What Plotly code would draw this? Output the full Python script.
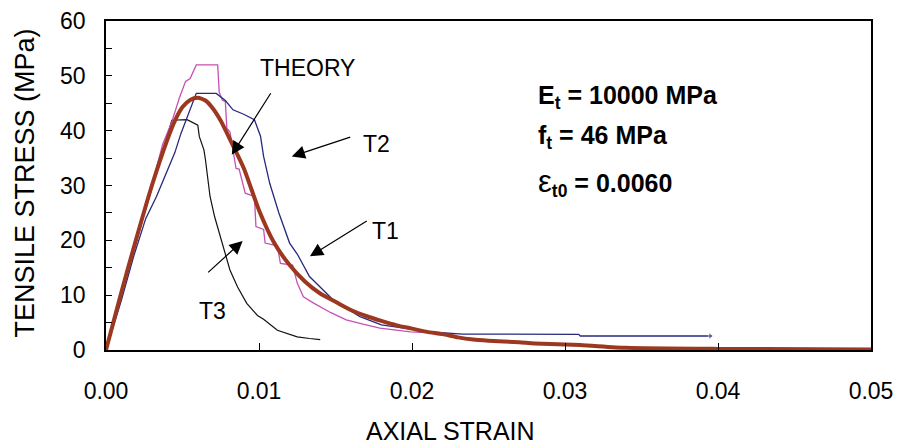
import plotly.graph_objects as go

# ---- data ----
theory_strain = [0, 0.001, 0.002, 0.003, 0.004, 0.0045, 0.005, 0.0055, 0.006, 0.0065, 0.007,
                 0.0075, 0.008, 0.009, 0.010,
                 0.011, 0.012, 0.013, 0.014, 0.015, 0.016, 0.017, 0.018, 0.019, 0.020,
                 0.021, 0.022, 0.023, 0.024, 0.025, 0.027, 0.028, 0.031, 0.034, 0.040, 0.050]
theory_stress = [0, 10.5, 20.5, 30, 38.3, 41.8, 44.3, 45.6, 46, 45.5, 44,
                 41.8, 39, 33.2, 25.5,
                 19.5, 15.5, 12.5, 10.3, 8.8, 7.3, 6.2, 5.3, 4.5, 3.9,
                 3.3, 2.9, 2.3, 1.9, 1.7, 1.4, 1.2, 0.9, 0.4, 0.2, 0.1]

t1_strain = [0, 0.001, 0.002, 0.003, 0.0037, 0.0043, 0.0048, 0.0052, 0.0055, 0.0059, 0.0073,
             0.0074, 0.0076, 0.0078, 0.0079, 0.0081, 0.0085, 0.0087, 0.0091, 0.0097, 0.0098,
             0.0103, 0.0104, 0.0112, 0.0114, 0.0122, 0.0125, 0.0129, 0.0136, 0.0147, 0.0157,
             0.0168, 0.0179, 0.0199, 0.0225]
t1_stress = [0, 10.3, 20.3, 30, 37.5, 41.6, 46, 49, 49.5, 52, 52,
             47, 45.6, 45.3, 40.4, 39.8, 33.1, 33, 28.6, 28, 22.5,
             22, 19.5, 19, 15.8, 15.5, 12.2, 9.7, 8.5, 6.8, 5.5,
             4.7, 4.0, 3.3, 3.0]

t2_strain = [0, 0.001, 0.0018, 0.0026, 0.0033, 0.004, 0.0045, 0.0049, 0.0055, 0.0059, 0.0072,
             0.0078, 0.0083, 0.009, 0.0097, 0.0101, 0.0103, 0.0107, 0.0113, 0.012, 0.0125,
             0.0133, 0.0149, 0.0166, 0.018, 0.0212, 0.0233, 0.0309, 0.031, 0.0395]
t2_stress = [0, 9, 17, 24, 28, 32.5, 36, 39.5, 44, 46.8, 46.8,
             45.5, 43.8, 43, 42, 39, 35.3, 30.4, 25, 19.5, 17.5,
             13.4, 9, 6.1, 4.6, 3.3, 2.9, 2.85, 2.55, 2.55]

t3_strain = [0, 0.001, 0.002, 0.003, 0.0037, 0.0043, 0.0053, 0.006, 0.0061, 0.0064, 0.0065,
             0.0068, 0.0071, 0.0077, 0.0081, 0.0086, 0.0092, 0.0099, 0.0103, 0.0112, 0.012,
             0.0125, 0.0133, 0.014]
t3_stress = [0, 10.3, 20, 29.5, 36.5, 41.9, 42, 41, 38.9, 36.5, 34.7,
             28, 24.3, 18.2, 14.6, 11.5, 8.5, 6.3, 5.6, 3.6, 2.9,
             2.4, 2.1, 1.9]

x_ticks = [0, 0.01, 0.02, 0.03, 0.04, 0.05]
x_ticklabels = ["0.00", "0.01", "0.02", "0.03", "0.04", "0.05"]
y_ticks = [0, 10, 20, 30, 40, 50, 60]

FONT = "Liberation Sans, Arial, sans-serif"

fig = go.Figure()
fig.add_trace(go.Scatter(x=t3_strain, y=t3_stress, mode="lines",
                         line=dict(color="#111111", width=1.2), name="T3"))
fig.add_trace(go.Scatter(x=t1_strain, y=t1_stress, mode="lines",
                         line=dict(color="#c850b4", width=1.3), name="T1"))
fig.add_trace(go.Scatter(x=t2_strain, y=t2_stress, mode="lines+markers",
                         line=dict(color="#28287e", width=1.3),
                         marker=dict(size=[0] * (len(t2_strain) - 1) + [6],
                                     symbol="triangle-right", color="#28287e"),
                         name="T2"))
fig.add_trace(go.Scatter(x=theory_strain, y=theory_stress, mode="lines",
                         line=dict(color="#9c3820", width=4, shape="spline", smoothing=0.6),
                         name="THEORY"))

# arrows (tail -> head) in data coordinates
arrows = [
    ((0.01083, 47.1), (0.00822, 35.6)),   # THEORY
    ((0.01606, 38.9), (0.01214, 35.3)),   # T2
    ((0.01714, 23.7), (0.01333, 17.1)),   # T1
    ((0.00658, 13.9), (0.00893, 19.9)),   # T3
]
for (tx, ty), (hx, hy) in arrows:
    fig.add_annotation(x=hx, y=hy, ax=tx, ay=ty, xref="x", yref="y", axref="x", ayref="y",
                       text="", showarrow=True, arrowhead=2, arrowsize=2.2, arrowwidth=1.2,
                       arrowcolor="black", standoff=0)

labels = [("THEORY", 0.0132, 51.4), ("T2", 0.01765, 37.6), ("T1", 0.01824, 21.7), ("T3", 0.00693, 7.1)]
for txt, lx, ly in labels:
    fig.add_annotation(x=lx, y=ly, xref="x", yref="y", text=txt, showarrow=False,
                       font=dict(family=FONT, size=23, color="black"))

params = [("<b>E<sub>t</sub> = 10000 MPa</b>", 46.1),
          ("<b>f<sub>t</sub> = 46 MPa</b>", 38.8),
          ("<span style='font-size:31px'>ε</span><b><sub>t0</sub> = 0.0060</b>", 30.5)]
for txt, py in params:
    fig.add_annotation(x=0.0281, y=py, xref="x", yref="y", text=txt, showarrow=False,
                       xanchor="left", font=dict(family=FONT, size=25, color="black"))

# axis titles
fig.add_annotation(x=0.4497, y=-0.246, xref="paper", yref="paper", text="AXIAL STRAIN",
                   showarrow=False, xanchor="center", yanchor="middle",
                   font=dict(family=FONT, size=25, color="black"))
fig.add_annotation(x=-0.106, y=0.509, xref="paper", yref="paper", text="TENSILE STRESS (MPa)",
                   showarrow=False, xanchor="center", yanchor="middle", textangle=-90,
                   font=dict(family=FONT, size=27, color="black"))

# page has an 8px body margin, so the figure is shifted; compensate in the margins
fig.update_layout(
    width=893, height=440,
    margin=dict(l=98, r=30, t=13, b=98),
    plot_bgcolor="white", paper_bgcolor="white",
    showlegend=False,
    font=dict(family=FONT, size=23, color="black"),
)
fig.update_xaxes(range=[0, 0.05], tickvals=x_ticks, ticktext=x_ticklabels,
                 ticks="inside", ticklen=7, tickwidth=1, tickcolor="black",
                 showline=True, linecolor="black", linewidth=1.5, mirror=True,
                 showgrid=False, zeroline=False, ticklabelstandoff=20, automargin=False,
                 tickfont=dict(size=23))
fig.update_yaxes(range=[0, 60], tickvals=y_ticks,
                 ticks="inside", ticklen=6, tickwidth=1, tickcolor="black",
                 minor=dict(dtick=5, ticks="inside", ticklen=6, tickcolor="black"),
                 showline=True, linecolor="black", linewidth=1.5, mirror=True,
                 showgrid=False, zeroline=False, ticklabelstandoff=14, automargin=False,
                 tickfont=dict(size=23))

fig.write_html("out.html")
